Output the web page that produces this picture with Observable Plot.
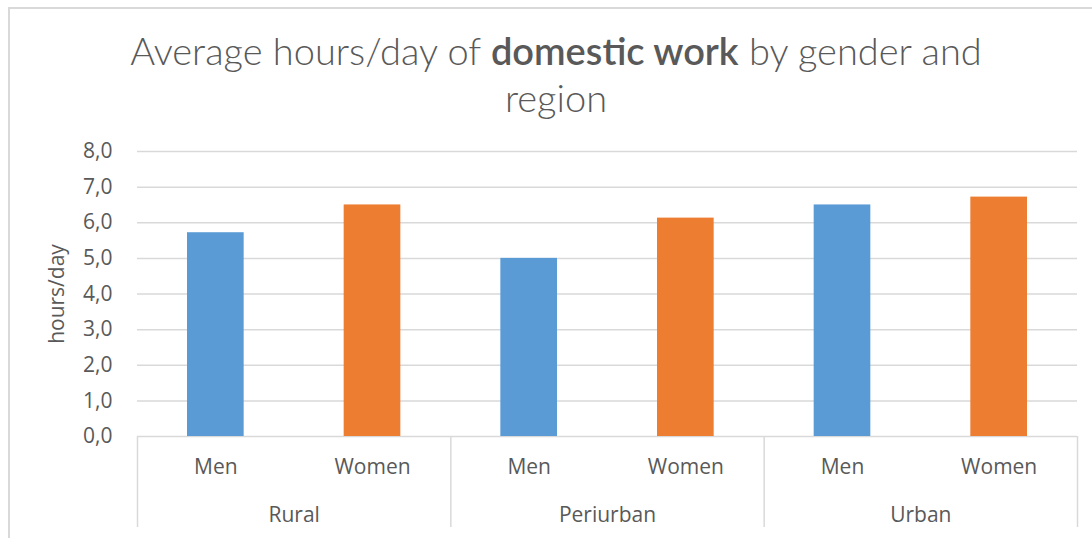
<!DOCTYPE html>
<html>
<head>
<meta charset="utf-8">
<script src="https://cdn.jsdelivr.net/npm/d3@7"></script>
<script src="https://cdn.jsdelivr.net/npm/@observablehq/plot@0.6"></script>
<style>
  html, body { margin: 0; padding: 0; background: #fff; }
  body { width: 1092px; height: 538px; overflow: hidden; position: relative; font-family: "Open Sans", sans-serif; }
  #border { position: absolute; left: 8px; top: 7px; width: 1200px; height: 700px; border: 2px solid #d9d9d9; box-sizing: border-box; }
  #title { position: absolute; left: 10px; top: 0; width: 1092px; height: 130px; text-align: center; color: #595959;
           font-family: "Lato", sans-serif; font-weight: 300; font-size: 38px; line-height: 47px; padding-top: 27px; box-sizing: border-box; }
  #title b { font-weight: 600; }
  #chart { position: absolute; left: 0; top: 130px; }
</style>
</head>
<body>
<div id="border"></div>
<div id="title">Average hours/day of <b>domestic work</b> by gender and<br>region</div>
<div id="chart"></div>
<script>
const regions = ["Rural", "Periurban", "Urban"];
const genders = ["Men", "Women"];
const menValues = [5.72, 5.0, 6.5];
const womenValues = [6.5, 6.13, 6.72];
const genderColors = ["#5b9bd5", "#ed7d31"];
const yTicks = [0, 1, 2, 3, 4, 5, 6, 7, 8];
const yLabel = "hours/day";

const data = regions.flatMap((r, i) => genders.map((g, j) => ({
  region: r, gender: g, value: j === 0 ? menValues[i] : womenValues[i], idx: i * genders.length + j
})));
const boundaries = regions.map((r, i) => i * genders.length).concat([regions.length * genders.length]);
const fmt = d => d3.format(".1f")(d).replace(".", ",");
const grey = "#d9d9d9";
const textColor = "#595959";

const chart = Plot.plot({
  width: 1092,
  height: 408,
  marginTop: 21,
  marginBottom: 102,
  marginLeft: 137,
  marginRight: 15,
  style: { fontFamily: "'Open Sans', sans-serif", fontSize: "21px", color: textColor, background: "transparent" },
  x: { domain: [0, regions.length * genders.length], axis: null },
  y: { domain: [0, 8], ticks: yTicks, tickFormat: fmt, tickSize: 0, tickPadding: 25, label: null },
  color: { domain: genders, range: genderColors },
  marks: [
    Plot.ruleY(yTicks, { stroke: grey, strokeWidth: 1.5 }),
    Plot.ruleX(boundaries, { y1: () => 0, y2: () => 0, insetBottom: -91, stroke: grey, strokeWidth: 1.5 }),
    Plot.rectY(data, { x: "idx", interval: 1, y: "value", fill: "gender", insetLeft: 50, insetRight: 50 }),
    Plot.text(data, { x: d => d.idx + 0.5, y: () => 0, text: "gender", dy: 31, fill: textColor }),
    Plot.text(regions, { x: (d, i) => i * genders.length + genders.length / 2, y: () => 0, text: d => d, dy: 79, fill: textColor }),
    Plot.text([yLabel], { frameAnchor: "left", textAnchor: "middle", text: d => d, rotate: -90, dx: -80, fill: textColor })
  ]
});
document.getElementById("chart").appendChild(chart);
</script>
</body>
</html>
